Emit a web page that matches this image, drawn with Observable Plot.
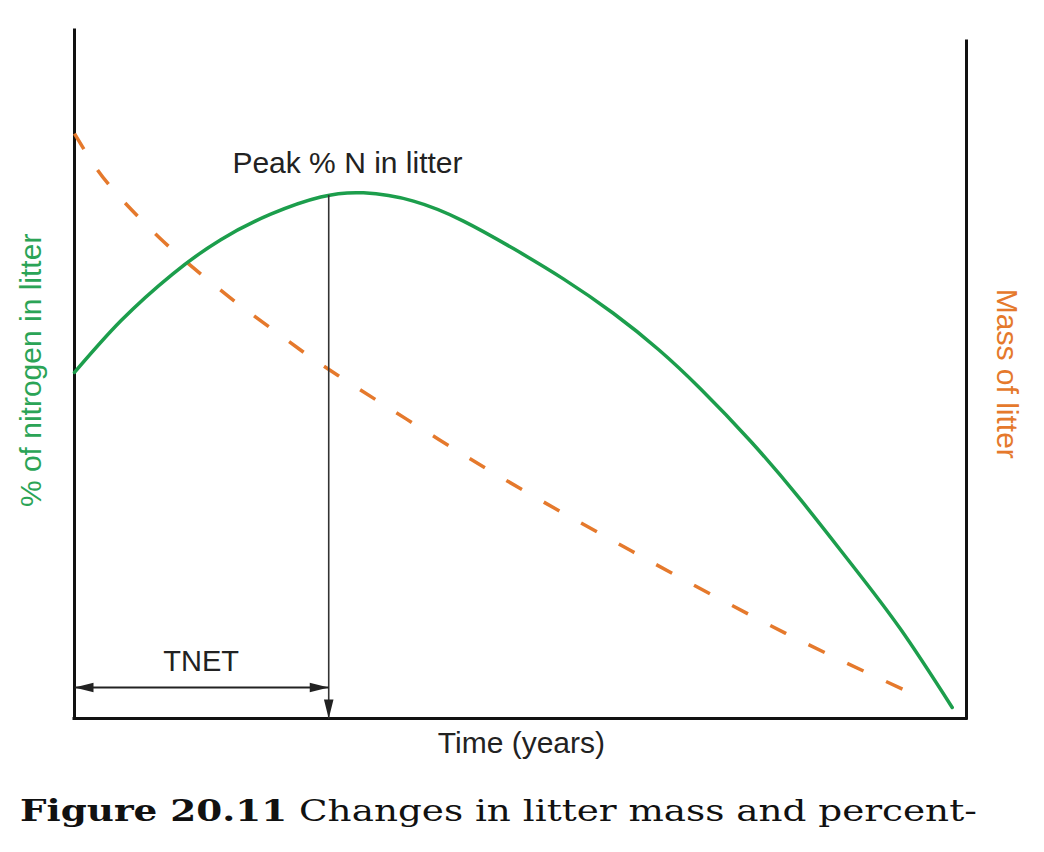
<!DOCTYPE html>
<html>
<head>
<meta charset="utf-8">
<script src="https://cdn.jsdelivr.net/npm/d3@7"></script>
<script src="https://cdn.jsdelivr.net/npm/@observablehq/plot@0.6"></script>
<style>
  html, body { margin: 0; padding: 0; background: #fff; }
  #wrap { position: relative; width: 1044px; height: 852px; overflow: hidden; }
  #caption { position: absolute; left: 20px; top: 797px; font-family: "DejaVu Serif", "Liberation Serif", serif; font-size: 29px; line-height: 1; color: #111; white-space: nowrap; transform-origin: 0 0; }
  #caption b { font-weight: bold; }
</style>
</head>
<body>
<div id="wrap">
  <div id="chart"></div>
  <div id="caption"><span id="capspan"><b>Figure 20.11</b> Changes in litter mass and percent-</span></div>
</div>
<script>
// % nitrogen in litter (green curve), arbitrary units
const timeN = [0, 5.2, 11.0, 16.4, 22.0, 27.6, 32.4, 38.0, 43.6, 49.2, 54.8, 60.4, 65.5, 70.2, 75.8, 81.4, 87.0, 92.6, 98.4];
const pctN  = [50.3, 57.8, 64.6, 69.6, 73.3, 75.8, 76.4, 75.2, 72.3, 68.3, 63.9, 58.9, 53.6, 47.9, 40.3, 31.8, 22.6, 13.0, 1.6];

// Mass of litter (orange dashed curve), arbitrary units
const timeM = [0, 2.6, 5.7, 10.0, 13.8, 17.5, 21.2, 25.3, 29.5, 40.8, 50.8, 59.3, 67.0, 75.8, 84.4, 94.1];
const massM = [85.0, 79.7, 74.9, 69.3, 65.0, 61.1, 57.5, 53.6, 49.9, 40.6, 32.8, 26.6, 21.1, 15.0, 9.4, 3.5];

// Annotation values
const peakTime = 28.5;   // time of peak % N
const peakN = 76.1;      // peak % N
const tnetLevel = 4.5;   // height of the TNET span arrow
const rightAxisTop = 98.4;

const labels = {
  peak: "Peak % N in litter",
  tnet: "TNET",
  xTitle: "Time (years)",
  yLeft: "% of nitrogen in litter",
  yRight: "Mass of litter"
};

const green = "#1c9e4c";
const greenText = "#2ba456";
const orange = "#e5792c";
const ink = "#222";

const nData = timeN.map((t, i) => ({t, v: pctN[i]}));
const mData = timeM.map((t, i) => ({t, v: massM[i]}));

// filled, narrow arrowhead with tip at origin pointing up
const arrowHead = {
  draw(context) {
    context.moveTo(0, 0);
    context.lineTo(4.8, 19);
    context.lineTo(-4.8, 19);
    context.closePath();
  }
};
const tips = [
  {t: peakTime, v: 0, rot: 180},
  {t: 0, v: tnetLevel, rot: -90},
  {t: peakTime, v: tnetLevel, rot: 90}
];

const font = "'Liberation Sans', Arial, Helvetica, sans-serif";

const chart = Plot.plot({
  width: 1044,
  height: 770,
  marginLeft: 74,
  marginRight: 78,
  marginTop: 30,
  marginBottom: 52,
  x: {domain: [0, 100], axis: null},
  y: {domain: [0, 100], axis: null},
  style: {fontFamily: font, background: "white", overflow: "visible"},
  marks: [
    Plot.ruleX([0], {y1: 0, y2: 100, stroke: "#111", strokeWidth: 3, strokeLinecap: "square"}),
    Plot.ruleX([100], {y1: 0, y2: rightAxisTop, stroke: "#111", strokeWidth: 3, strokeLinecap: "square"}),
    Plot.ruleY([0], {x1: 0, x2: 100, stroke: "#111", strokeWidth: 3, strokeLinecap: "square"}),
    Plot.line(mData, {x: "t", y: "v", curve: "natural", stroke: orange, strokeWidth: 3.5, strokeDasharray: "18,25", strokeLinecap: "butt"}),
    Plot.line(nData, {x: "t", y: "v", curve: "natural", stroke: green, strokeWidth: 3.5}),
    Plot.link([0], {x1: () => peakTime, x2: () => peakTime, y1: () => peakN, y2: () => 0, stroke: "#333", strokeWidth: 1.6}),
    Plot.link([0], {x1: () => 0, x2: () => peakTime, y1: () => tnetLevel, y2: () => tnetLevel, stroke: "#222", strokeWidth: 2}),
    Plot.dot(tips, {x: "t", y: "v", rotate: "rot", symbol: arrowHead, fill: ink, stroke: "none", r: 5}),
    Plot.text([labels.peak], {x: () => 30.6, y: () => 80.7, text: d => d, fontSize: 30, fill: ink, textAnchor: "middle", lineAnchor: "middle"}),
    Plot.text([labels.tnet], {x: () => 14.2, y: () => 8.2, text: d => d, fontSize: 29, fill: ink, textAnchor: "middle", lineAnchor: "middle"}),
    Plot.text([labels.xTitle], {x: () => 50.1, y: () => -3.6, text: d => d, fontSize: 30, fill: ink, textAnchor: "middle", lineAnchor: "middle"}),
    Plot.text([labels.yLeft], {x: () => -4.8, y: () => 50.6, text: d => d, fontSize: 30, fill: greenText, rotate: -90, textAnchor: "middle", lineAnchor: "middle"}),
    Plot.text([labels.yRight], {x: () => 104.5, y: () => 50.1, text: d => d, fontSize: 30, fill: orange, rotate: 90, textAnchor: "middle", lineAnchor: "middle"})
  ]
});
document.getElementById("chart").appendChild(chart);

// stretch caption horizontally to the reference width (approx. 957px)
const cap = document.getElementById("caption");
const span = document.getElementById("capspan");
const target = 957;
const w = span.getBoundingClientRect().width;
cap.style.transform = "scaleX(" + (target / w).toFixed(3) + ")";
</script>
</body>
</html>
